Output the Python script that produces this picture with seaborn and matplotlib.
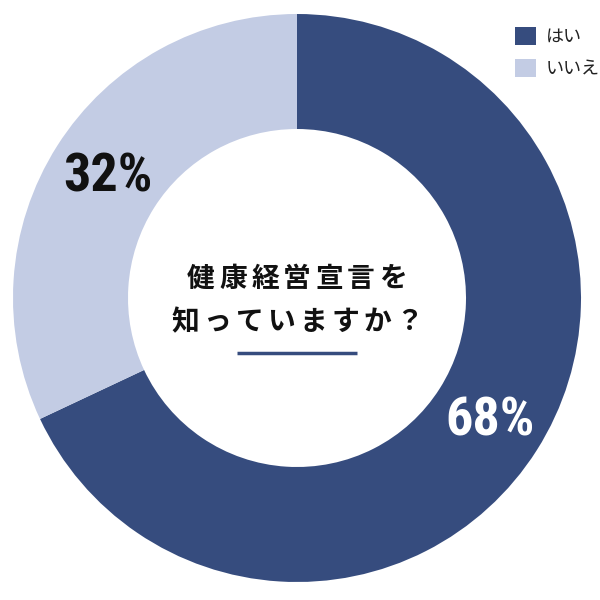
import matplotlib
matplotlib.use("Agg")
import matplotlib.pyplot as plt
import seaborn as sns
from matplotlib import font_manager as fm
from matplotlib.patches import Patch

categories = ["はい", "いいえ"]
values = [68, 32]
pct_labels = ["68%", "32%"]
title_line1 = "健康経営宣言を"
title_line2 = "知っていますか？"

sns.set_theme(style="white")
plt.rcParams['font.family'] = ['Noto Sans CJK JP', 'DejaVu Sans']

colors = ["#364C7E", "#C3CCE4"]

names = {f.name for f in fm.fontManager.ttflist}
num_font = None
for cand in ["Roboto Condensed", "Liberation Sans Narrow", "DejaVu Sans Condensed"]:
    if cand in names:
        num_font = cand
        break

fig = plt.figure(figsize=(6, 6), dpi=100)
ax = fig.add_axes([0, 0, 1, 1])

cx, cy, R = 297, 600 - 298, 284
wedges, _ = ax.pie(values, colors=colors, startangle=90, counterclock=False,
                   center=(cx, cy), radius=R,
                   wedgeprops=dict(width=115, edgecolor='none'))
ax.set_xlim(0, 600)
ax.set_ylim(0, 600)
ax.set_aspect('equal')
ax.axis('off')

# percentage labels
if num_font:
    fp = dict(family=num_font, weight='bold')
else:
    fp = dict(family='DejaVu Sans', stretch='condensed', weight='bold')
ax.text(490, 600 - 421, pct_labels[0], color='white', fontsize=39, ha='center', va='center', **fp)
ax.text(108, 600 - 177, pct_labels[1], color='#111111', fontsize=39, ha='center', va='center', **fp)

# center title with letter spacing
pitch = 32
for line, y in [(title_line1, 600 - 279), (title_line2, 600 - 322)]:
    n = len(line)
    x0 = 297 - pitch * (n - 1) / 2
    for i, ch in enumerate(line):
        ax.text(x0 + i * pitch, y, ch, fontsize=20, weight='bold', color='#111111',
                ha='center', va='center')

ax.plot([237, 357], [600 - 353, 600 - 353], color=colors[0], lw=2.5, solid_capstyle='butt')

handles = [Patch(facecolor=c, edgecolor='none') for c in colors]
leg = fig.legend(handles, categories, loc='upper left', bbox_to_anchor=(515 / 600, 1 - 27 / 600),
                 frameon=False, fontsize=13, handlelength=1.16, handleheight=1.16,
                 handletextpad=0.55, labelspacing=0.72, borderaxespad=0, borderpad=0)
for t in leg.get_texts():
    t.set_color('#222222')

plt.savefig("out.png", dpi=100)
